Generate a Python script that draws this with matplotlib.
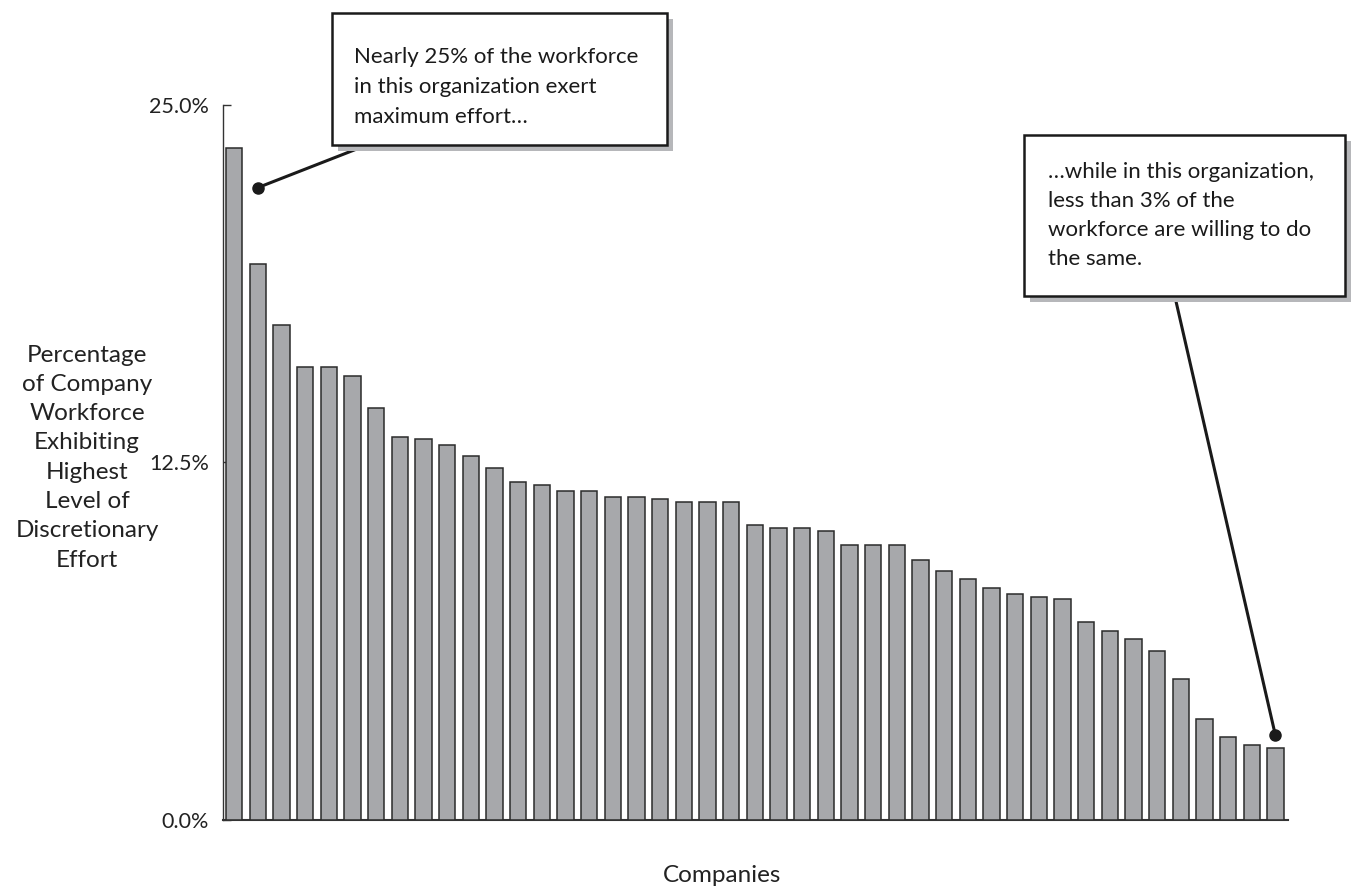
import matplotlib.pyplot as plt
from matplotlib.patches import Rectangle
import numpy as np

plt.rcParams['font.family'] = ['Lato', 'DejaVu Sans']

# share of workforce at the highest effort level, one value per company (%)
effort = [23.50, 19.42, 17.30, 15.82, 15.82, 15.52, 14.41, 13.40, 13.31,
          13.11, 12.71, 12.31, 11.80, 11.71, 11.51, 11.51, 11.30, 11.30,
          11.21, 11.11, 11.11, 11.11, 10.30, 10.21, 10.21, 10.10, 9.61,
          9.61, 9.61, 9.10, 8.70, 8.41, 8.11, 7.91, 7.80, 7.71, 6.92,
          6.62, 6.32, 5.92, 4.92, 3.52, 2.91, 2.61, 2.51]
y_ticks = [0.0, 12.5, 25.0]
y_ticklabels = ['0.0%', '12.5%', '25.0%']

y_title = ['Percentage', 'of Company', 'Workforce', 'Exhibiting', 'Highest',
           'Level of', 'Discretionary', 'Effort']
top_note = ['Nearly 25% of the workforce', 'in this organization exert',
            'maximum effort\u2026']
low_note = ['\u2026while in this organization,', 'less than 3% of the',
            'workforce are willing to do', 'the same.']
top_mark = 22.1
low_mark = 2.96

W, H = 1355, 886
fig = plt.figure(figsize=(W / 100, H / 100), dpi=100)
ax = fig.add_axes([222.7 / W, 1 - 820 / H, 1065 / W, 715.3 / H])

x = np.arange(len(effort))
ax.bar(x, effort, width=0.69, color='#a7a8ab', edgecolor='#2b2b2b',
       linewidth=1.1, zorder=3)

ax.set_xlim(-0.48, 44.52)
ax.set_ylim(0, 25)
ax.set_xticks([])
ax.set_yticks(y_ticks)
ax.set_yticklabels(y_ticklabels)
ax.tick_params(axis='y', direction='in', length=6, width=1, color='#333333',
               labelsize=15.5, labelcolor='#222222', pad=10)
for side in ['top', 'right']:
    ax.spines[side].set_visible(False)
ax.spines['left'].set_color('#333333')
ax.spines['bottom'].set_color('#333333')
ax.spines['left'].set_linewidth(1)
ax.spines['bottom'].set_linewidth(1.5)


def px_text(px, py, s, **kw):
    # text placed in pixels from the top-left corner of the figure
    return fig.text(px / W, 1 - py / H, s, **kw)


# y-axis title, one line per text so it stays clear of the tick labels
for k, line in enumerate(y_title):
    px_text(87, 361.5 + 29.3 * k, line, ha='center', va='baseline',
            fontsize=17.5, color='#222222')
px_text(722, 875, 'Companies', ha='center', va='center',
        fontsize=17.5, color='#222222')


def note_box(x0, y0, x1, y1, lines, base, step, pad):
    fig.patches.append(Rectangle(((x0 + 6) / W, 1 - (y1 + 6) / H),
                                 (x1 - x0) / W, (y1 - y0) / H,
                                 transform=fig.transFigure,
                                 facecolor='#b6b7ba', edgecolor='none', zorder=5))
    fig.patches.append(Rectangle((x0 / W, 1 - y1 / H),
                                 (x1 - x0) / W, (y1 - y0) / H,
                                 transform=fig.transFigure,
                                 facecolor='white', edgecolor='#1a1a1a',
                                 linewidth=1.8, zorder=6))
    for k, line in enumerate(lines):
        px_text(x0 + pad, base + step * k, line, ha='left', va='baseline',
                fontsize=16, color='#1a1a1a', zorder=7)


note_box(332, 13, 667, 145, top_note, 63, 30, 22)
note_box(1024, 135, 1345, 296, low_note, 177.7, 29.1, 24)

# leader lines from the boxes down to the marked companies
for i, val, (bx, by) in [(1, top_mark, (367, 145)), (44, low_mark, (1175, 297))]:
    ax.annotate('', xy=(i, val), xycoords='data',
                xytext=(bx / W, 1 - by / H), textcoords='figure fraction',
                arrowprops=dict(arrowstyle='-', color='#1a1a1a', lw=2.2,
                                shrinkA=0, shrinkB=0), zorder=4)
    ax.plot(i, val, 'o', color='#1a1a1a', markersize=8, zorder=5, clip_on=False)

fig.savefig('out.png', dpi=100, facecolor='white')
